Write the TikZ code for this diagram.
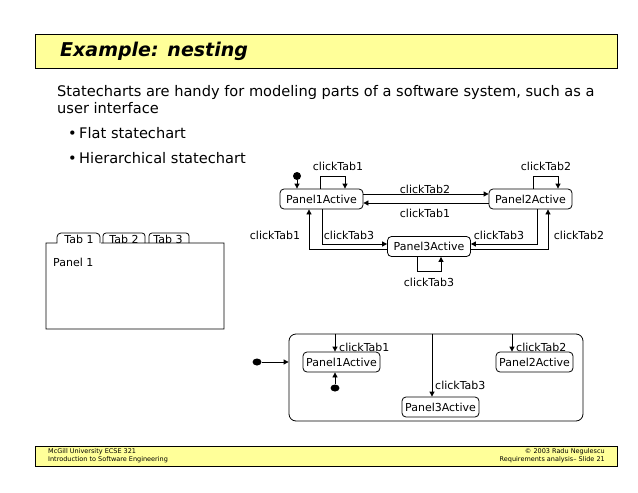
\documentclass[tikz,border=0pt]{standalone}
\usepackage{fontspec}
\setmainfont{DejaVu Sans}
\usetikzlibrary{arrows.meta,shapes.geometric}
\definecolor{baryellow}{RGB}{255,255,153}
\tikzset{
  state/.style={draw, line width=0.8pt, rounded corners=4pt, minimum width=83pt, minimum height=20pt, inner sep=0pt, font=\fontsize{11}{13}\selectfont},
  sstate/.style={draw, line width=0.8pt, rounded corners=4pt, minimum width=77pt, minimum height=20pt, inner sep=0pt, font=\fontsize{11}{13}\selectfont},
  lbl/.style={inner sep=0pt, font=\fontsize{11}{13}\selectfont},
  body/.style={inner sep=0pt, anchor=west, font=\fontsize{14.6}{16}\selectfont},
  arr/.style={-{Triangle[length=5pt,width=5pt]}, line width=0.8pt},
  dot/.style={fill, ellipse, inner sep=0pt, minimum width=9pt, minimum height=7pt},
  bar/.style={draw, line width=1pt, fill=baryellow},
  foot/.style={inner sep=0pt, font=\fontsize{6.5}{7}\selectfont}
}
\begin{document}
\begin{tikzpicture}[x=1pt,y=-1pt]
\useasboundingbox (0,0) rectangle (638,493);
\fill[white] (0,0) rectangle (638,493);
% title bar
\node[bar, minimum width=582pt, minimum height=34pt, anchor=north west] (tbar) at (35,34) {};
\node[inner sep=0pt, anchor=west, font=\fontsize{19}{20}\selectfont\bfseries\itshape] (title) at (60,51) {Example: nesting};
% body text
\node[body] (t1) at (57,92) {Statecharts are handy for modeling parts of a software system, such as a};
\node[body] (t2) at (57,108) {user interface};
\node[body] (b1) at (68,133) {\textbullet\,Flat statechart};
\node[body] (b2) at (68,158) {\textbullet\,Hierarchical statechart};
% tab widget
\draw[line width=0.8pt] (101,243) -- (224,243) -- (224,329) -- (46,329) -- (46,243) -- (57,243)
  [rounded corners=4pt] -- (57,233) -- (100,233) [sharp corners] -- (100,243);
\draw[line width=0.8pt, rounded corners=3pt] (103,243) -- (103,233) -- (145,233) -- (145,243);
\draw[line width=0.8pt, rounded corners=3pt] (149,243) -- (149,233) -- (189,233) -- (189,243);
\node[lbl] (tab1) at (79,239) {Tab 1};
\node[lbl] (tab2) at (124,239) {Tab 2};
\node[lbl] (tab3) at (168,239) {Tab 3};
\node[lbl, anchor=west] (pan) at (53,262) {Panel 1};
% flat statechart
\node[state] (p1) at (321.5,199) {Panel1Active};
\node[state] (p2) at (530.5,199) {Panel2Active};
\node[state] (p3) at (429,246.5) {Panel3Active};
\node[fill, circle, inner sep=0pt, minimum size=8pt] (i1) at (297,176) {};
\draw[arr] (i1) -- (i1 |- p1.north);
\draw[arr] ([xshift=-1.5pt]p1.north) -- ++(0,-12) -| ([xshift=23.5pt]p1.north);
\node[lbl] (l1) at (338,166) {clickTab1};
\draw[arr] ([xshift=2.5pt]p2.north) -- ++(0,-12) -| ([xshift=27.5pt]p2.north);
\node[lbl] (l2) at (546,166) {clickTab2};
\draw[arr] ([yshift=5pt]p1.east) -- ([yshift=5pt]p2.west);
\node[lbl] (l3) at (425,189) {clickTab2};
\draw[arr] ([yshift=-4pt]p2.west) -- ([yshift=-4pt]p1.east);
\node[lbl] (l4) at (425,213) {clickTab1};
\draw[arr] ([xshift=0.5pt]p1.south) |- ([yshift=2.5pt]p3.west);
\node[lbl] (l5) at (349,235) {clickTab3};
\draw[arr] ([yshift=-2.5pt]p3.west) -| ([xshift=-12.5pt]p1.south);
\node[lbl] (l6) at (275,235) {clickTab1};
\draw[arr] ([xshift=6.5pt]p2.south) |- ([yshift=2.5pt]p3.east);
\node[lbl] (l7) at (499,235) {clickTab3};
\draw[arr] ([yshift=-2.5pt]p3.east) -| ([xshift=17.5pt]p2.south);
\node[lbl] (l8) at (579,235) {clickTab2};
\draw[arr] ([xshift=-12pt]p3.south) -- ++(0,14) -| ([xshift=12pt]p3.south);
\node[lbl] (l9) at (429,282) {clickTab3};
% hierarchical statechart
\node[draw, line width=0.8pt, rounded corners=7pt, minimum width=294pt, minimum height=87pt, inner sep=0pt] (outer) at (436,377.5) {};
\node[dot] (i2) at (257,362) {};
\draw[arr] (i2) -- (i2 -| outer.west);
\node[sstate] (q1) at (341.5,362) {Panel1Active};
\node[sstate] (q2) at (534.5,362) {Panel2Active};
\node[sstate] (q3) at (440.5,407) {Panel3Active};
\draw[arr] ([xshift=-101pt]outer.north) -- ([xshift=-6.5pt]q1.north);
\node[lbl, anchor=west] (m1) at (339,347) {clickTab1};
\node[dot] (i3) at (335,388) {};
\draw[arr] (i3) -- (i3 |- q1.south);
\draw[arr] ([xshift=76pt]outer.north) -- ([xshift=-22.5pt]q2.north);
\node[lbl, anchor=west] (m2) at (516,347) {clickTab2};
\draw[arr] ([xshift=-4pt]outer.north) -- ([xshift=-8.5pt]q3.north);
\node[lbl, anchor=west] (m3) at (435,385) {clickTab3};
% footer
\node[bar, minimum width=582pt, minimum height=20pt, anchor=north west] (fbar) at (35,446) {};
\node[foot, anchor=west] (f1) at (48,452) {McGill University ECSE 321};
\node[foot, anchor=west] (f2) at (48,460) {Introduction to Software Engineering};
\node[foot, anchor=east] (f3) at (605,452) {\textcopyright\ 2003 Radu Negulescu};
\node[foot, anchor=east] (f4) at (605,460) {Requirements analysis-- Slide 21};
\end{tikzpicture}
\end{document}
